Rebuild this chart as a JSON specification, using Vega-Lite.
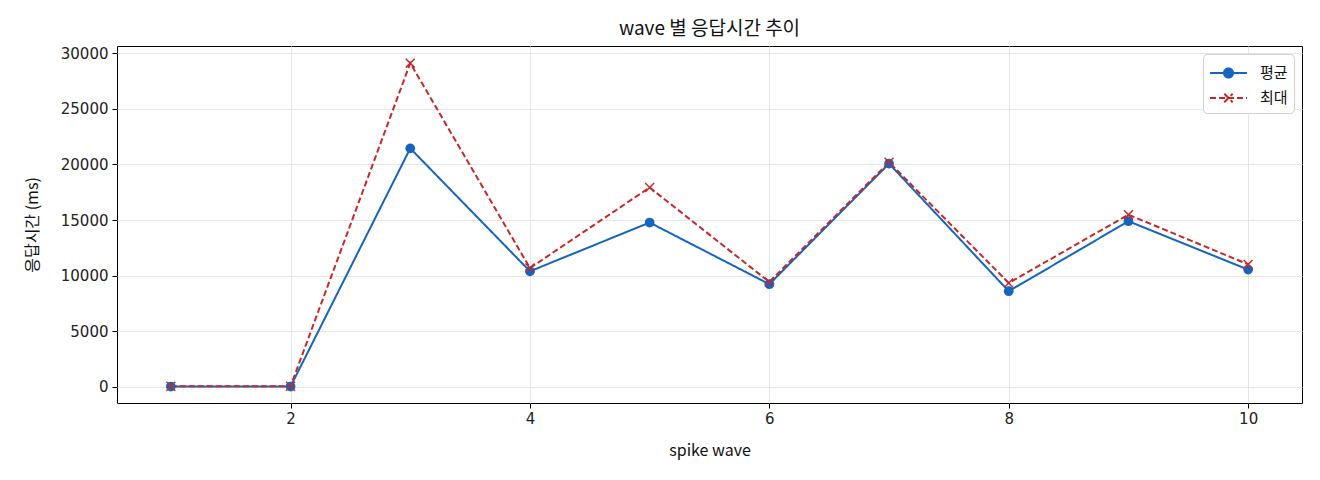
{
  "$schema": "https://vega.github.io/schema/vega-lite/v6.json",
  "autosize": "none",
  "width": 1185,
  "height": 357,
  "padding": {"left": 117, "top": 46, "right": 18, "bottom": 77},
  "background": "white",
  "title": {
    "text": "wave 별 응답시간 추이",
    "font": "Noto Sans CJK KR",
    "fontSize": 19,
    "fontWeight": "normal",
    "color": "#111",
    "offset": 7
  },
  "config": {
    "font": "Noto Sans CJK KR",
    "view": {"stroke": "#000", "strokeWidth": 1},
    "axis": {
      "labelFont": "DejaVu Sans",
      "labelFontSize": 15,
      "labelColor": "#222",
      "titleFont": "Noto Sans CJK KR",
      "titleFontSize": 16,
      "titleFontWeight": "normal",
      "titleColor": "#111",
      "tickColor": "#000",
      "tickSize": 5,
      "domain": false,
      "gridColor": "#e6e6e6",
      "gridWidth": 1
    }
  },
  "data": {
    "values": [
      {"wave": 1, "series": "평균", "ms": 40},
      {"wave": 2, "series": "평균", "ms": 40},
      {"wave": 3, "series": "평균", "ms": 21450},
      {"wave": 4, "series": "평균", "ms": 10400},
      {"wave": 5, "series": "평균", "ms": 14780},
      {"wave": 6, "series": "평균", "ms": 9240},
      {"wave": 7, "series": "평균", "ms": 20080},
      {"wave": 8, "series": "평균", "ms": 8610},
      {"wave": 9, "series": "평균", "ms": 14900},
      {"wave": 10, "series": "평균", "ms": 10550},
      {"wave": 1, "series": "최대", "ms": 60},
      {"wave": 2, "series": "최대", "ms": 60},
      {"wave": 3, "series": "최대", "ms": 29110},
      {"wave": 4, "series": "최대", "ms": 10690},
      {"wave": 5, "series": "최대", "ms": 17930},
      {"wave": 6, "series": "최대", "ms": 9440},
      {"wave": 7, "series": "최대", "ms": 20200},
      {"wave": 8, "series": "최대", "ms": 9350},
      {"wave": 9, "series": "최대", "ms": 15490},
      {"wave": 10, "series": "최대", "ms": 11020}
    ]
  },
  "encoding": {
    "x": {
      "field": "wave",
      "type": "quantitative",
      "scale": {"domain": [0.55, 10.45], "nice": false, "zero": false},
      "axis": {"values": [2, 4, 6, 8, 10], "title": "spike wave", "titlePadding": 16, "labelPadding": 3}
    },
    "y": {
      "field": "ms",
      "type": "quantitative",
      "scale": {"domain": [-1440, 30650], "nice": false, "zero": false},
      "axis": {"values": [0, 5000, 10000, 15000, 20000, 25000, 30000], "format": "d", "title": "응답시간 (ms)", "titlePadding": 20, "labelPadding": 4}
    }
  },
  "layer": [
    {
      "mark": {"type": "line", "strokeWidth": 2},
      "encoding": {
        "color": {
          "field": "series",
          "type": "nominal",
          "sort": ["평균", "최대"],
          "scale": {"domain": ["평균", "최대"], "range": ["#1565c0", "#c62828"]},
          "legend": {
            "title": null,
            "orient": "top-right",
            "offset": 8,
            "fillColor": "white",
            "strokeColor": "#d0d0d0",
            "cornerRadius": 4,
            "padding": 6,
            "rowPadding": 3,
            "symbolSize": 576,
            "symbolStrokeWidth": 2,
            "labelFont": "Noto Sans CJK KR",
            "labelFontSize": 15,
            "labelColor": "#111",
            "labelOffset": 25,
            "encode": {
              "symbols": {
                "update": {
                  "shape": {"signal": "datum.value === '평균' ? 'M-1,0H2.08M0.16,0A0.38,0.38 0 1 1 0.92,0A0.38,0.38 0 1 1 0.16,0Z' : 'M-1,0H2.08M0.19,-0.35L0.89,0.35M0.19,0.35L0.89,-0.35'"},
                  "fill": {"signal": "datum.value === '평균' ? '#1565c0' : 'transparent'"},
                  "stroke": {"scale": "color", "field": "value"},
                  "strokeWidth": {"value": 2},
                  "strokeDash": {"signal": "datum.value === '평균' ? [] : [6, 3]"}
                }
              }
            }
          }
        },
        "strokeDash": {
          "field": "series",
          "type": "nominal",
          "scale": {"domain": ["평균", "최대"], "range": [[1, 0], [6, 3]]},
          "legend": null
        }
      }
    },
    {
      "transform": [{"filter": "datum.series === '평균'"}],
      "mark": {"type": "point", "shape": "circle", "filled": true, "size": 95, "opacity": 1, "color": "#1565c0"},
      "encoding": {}
    },
    {
      "transform": [{"filter": "datum.series === '최대'"}],
      "mark": {"type": "point", "shape": "M-1,-1L1,1M-1,1L1,-1", "filled": false, "size": 80, "strokeWidth": 1.5, "opacity": 1, "color": "#c62828"},
      "encoding": {}
    }
  ]
}
